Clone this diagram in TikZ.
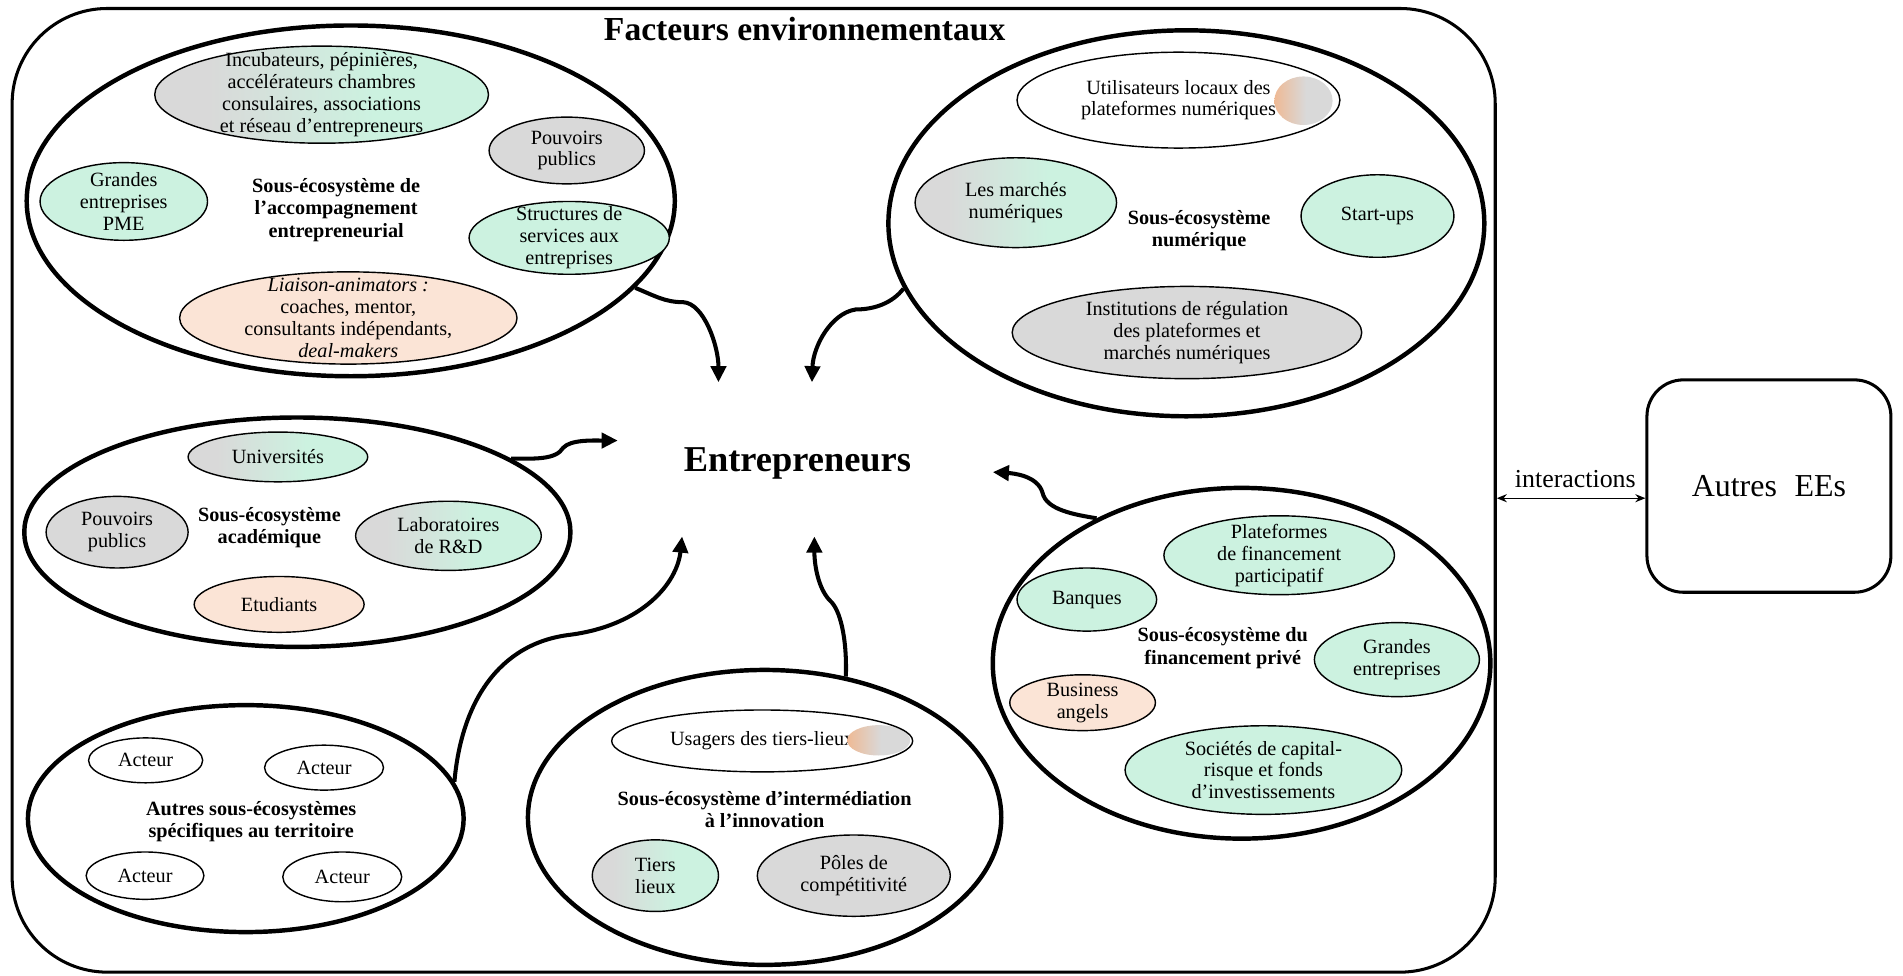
\documentclass[tikz,border=0pt]{standalone}
\usepackage{fontspec}
\setmainfont{Liberation Serif}
\usetikzlibrary{shapes.geometric,arrows.meta}
\definecolor{gr}{RGB}{217,217,217}
\definecolor{mint}{RGB}{204,242,224}
\definecolor{peach}{RGB}{251,228,214}
\definecolor{orng}{RGB}{244,177,131}
\pgfdeclarehorizontalshading{gm}{100bp}{color(0bp)=(gr); color(33bp)=(gr); color(58bp)=(mint); color(100bp)=(mint)}
\pgfdeclarehorizontalshading{og}{100bp}{color(0bp)=(orng); color(18bp)=(orng); color(52bp)=(gr); color(100bp)=(gr)}
\tikzset{
  bub/.style 2 args={ellipse, draw, line width=0.7pt, inner sep=0pt, minimum width=#1*0.6pt, minimum height=#2*0.6pt},
  big/.style 2 args={ellipse, draw, line width=2.2pt, inner sep=0pt, minimum width=#1*0.6pt, minimum height=#2*0.6pt},
  txt/.style={align=center, inner sep=0pt, font=\fontsize{10}{10.8}\selectfont},
  lab/.style={align=center, inner sep=0pt, font=\fontsize{10}{11}\selectfont\bfseries},
  arr/.style={line width=2pt, -{Triangle[length=8pt,width=7.5pt]}},
  gmfill/.style={shade, shading=gm},
  frame/.style={draw, rectangle, line width=1.5pt, inner sep=0pt},
}
\begin{document}
\begin{tikzpicture}[x=0.6pt, y=-0.6pt]
\useasboundingbox (0,0) rectangle (1568,804);
% outer frame
\node[frame, rounded corners=47pt, minimum width=1222*0.6pt, minimum height=794*0.6pt] (env) at (621,404) {};
\node[font=\fontsize{16.6}{19}\selectfont\bfseries, inner sep=0pt] (title) at (663,24) {Facteurs environnementaux};

% big ellipses
\node[big={534}{289}] (A) at (289,165.5) {};
\node[big={491}{318}] (B) at (977.5,184) {};
\node[big={450}{189}] (C) at (245,438.5) {};
\node[big={359}{187}] (D) at (202.5,674.5) {};
\node[big={390}{243}] (E) at (630,673.5) {};
\node[big={410}{289}] (F) at (1023,546.5) {};

% A : accompagnement
\node[bub={275}{80}, gmfill] (a1) at (265,78) {};
\node[txt] (a1t) at (a1) {Incubateurs, pépinières,\\accélérateurs chambres\\consulaires, associations\\et réseau d’entrepreneurs};
\node[bub={128}{55}, fill=gr] (a2) at (467,124) {};
\node[txt] (a2t) at (a2) {Pouvoirs\\publics};
\node[bub={138}{64}, fill=mint] (a3) at (102,166) {};
\node[txt] (a3t) at (a3) {Grandes\\entreprises\\PME};
\node[bub={165}{60}, fill=mint] (a4) at (469,196) {};
\node[txt] (a4t) at (a4) {Structures de\\services aux\\entreprises};
\node[bub={278}{76}, fill=peach] (a5) at (287,262) {};
\node[txt] (a5t) at (a5) {\textit{Liaison-animators :}\\coaches, mentor,\\consultants indépendants,\\\textit{deal-makers}};
\node[lab] (Al) at (277,173) {Sous-écosystème de\\l’accompagnement\\entrepreneurial};

% B : numerique
\node[bub={266}{79}] (b1) at (971,82.5) {};
\shade[shading=og] (1074,83) ellipse [x radius=14.4pt, y radius=12pt];
\node[txt] (b1t) at (b1) {Utilisateurs locaux des\\plateformes numériques};
\node[bub={166}{74}, gmfill] (b2) at (837,167) {};
\node[txt] (b2t) at (b2) {Les marchés\\numériques};
\node[bub={126}{68}, fill=mint] (b3) at (1135,178) {};
\node[txt] (b3t) at (b3) {Start-ups};
\node[bub={288}{76}, fill=gr] (b4) at (978,274) {};
\node[txt] (b4t) at (b4) {Institutions de régulation\\des plateformes et\\marchés numériques};
\node[lab] (Bl) at (988,190) {Sous-écosystème\\numérique};

% C : academique
\node[bub={148}{41}, gmfill] (c1) at (229,376.5) {};
\node[txt] (c1t) at (c1) {Universités};
\node[bub={117}{59}, fill=gr] (c2) at (96.5,438.5) {};
\node[txt] (c2t) at (c2) {Pouvoirs\\publics};
\node[bub={153}{57}, gmfill] (c3) at (369.5,441.5) {};
\node[txt] (c3t) at (c3) {Laboratoires\\de R\&D};
\node[bub={140}{46}, fill=peach] (c4) at (230,498) {};
\node[txt] (c4t) at (c4) {Etudiants};
\node[lab] (Cl) at (222,435) {Sous-écosystème\\académique};

% D : autres
\node[bub={94}{37}] (d1) at (120,626.5) {};
\node[txt] (d1t) at (d1) {Acteur};
\node[bub={98}{37}] (d2) at (267,632.5) {};
\node[txt] (d2t) at (d2) {Acteur};
\node[bub={97}{39}] (d3) at (119.5,721.5) {};
\node[txt] (d3t) at (d3) {Acteur};
\node[bub={98}{41}] (d4) at (282,722.5) {};
\node[txt] (d4t) at (d4) {Acteur};
\node[lab] (Dl) at (207,677) {Autres sous-écosystèmes\\spécifiques au territoire};

% E : intermediation
\node[txt] (e1t) at (628,610.5) {Usagers des tiers-lieux};
\begin{scope}
  \clip (628,610.5) ellipse [x radius=74.4pt, y radius=15.3pt];
  \shade[shading=og] (724,610) ellipse [x radius=15.6pt, y radius=7.5pt];
\end{scope}
\node[bub={248}{51}] (e1) at (628,610.5) {};
\node[lab] (El) at (630,667) {Sous-écosystème d’intermédiation\\à l’innovation};
\node[bub={104}{59}, gmfill] (e2) at (540,721.5) {};
\node[txt] (e2t) at (e2) {Tiers\\lieux};
\node[bub={159}{67}, fill=gr] (e3) at (703.5,721.5) {};
\node[txt] (e3t) at (e3) {Pôles de\\compétitivité};

% F : financement
\node[bub={190}{65}, fill=mint] (f1) at (1054,457.5) {};
\node[txt] (f1t) at (f1) {Plateformes\\de financement\\participatif};
\node[bub={115}{52}, fill=mint] (f2) at (895.5,494) {};
\node[txt] (f2t) at (f2) {Banques};
\node[bub={136}{61}, fill=mint] (f3) at (1151,543.5) {};
\node[txt] (f3t) at (f3) {Grandes\\entreprises};
\node[bub={120}{46}, fill=peach] (f4) at (892,579) {};
\node[txt] (f4t) at (f4) {Business\\angels};
\node[bub={228}{73}, fill=mint] (f5) at (1041,634.5) {};
\node[txt] (f5t) at (f5) {Sociétés de capital-\\risque et fonds\\d’investissements};
\node[lab] (Fl) at (1007.5,534) {Sous-écosystème du\\financement privé};

% centre
\node[font=\fontsize{18}{20}\selectfont\bfseries, inner sep=0pt] (ent) at (657,382) {Entrepreneurs};

% autres EEs
\node[frame, rounded corners=18pt, minimum width=201*0.6pt, minimum height=175*0.6pt, font=\fontsize{15.8}{18}\selectfont] (ee) at (1457.5,400.5) {Autres\hspace{0.55em}EEs};
\coordinate (ia) at ([yshift=-6pt]ee.west);
\draw[line width=0.6pt, {Stealth[length=5pt,width=4pt]}-{Stealth[length=5pt,width=4pt]}] (env.east |- ia) -- (ia);
\node[font=\fontsize{12.8}{14}\selectfont, inner sep=0pt] (il) at (1298,395) {interactions};

% arrows to entrepreneurs
\coordinate (t1) at (592,315);
\coordinate (t2) at (669,315);
\coordinate (t3) at (509,363);
\coordinate (t4) at (562,442);
\coordinate (t5) at (671,442);
\coordinate (t6) at (818,389);
\draw[arr] (A.-17) .. controls (540,244) and (548,249) .. (563,249) .. controls (580,250) and (592,285) .. (t1);
\draw[arr] (B.193) .. controls (735,250) and (720,255) .. (705,255) .. controls (685,258) and (670,285) .. (t2);
\draw[arr] (C.19) .. controls (440,378) and (458,379) .. (464,369) .. controls (470,362) and (490,363) .. (t3);
\draw[arr] (D.10) .. controls (380,580) and (410,530) .. (470,523) .. controls (530,515) and (558,480) .. (t4);
\draw[arr] (E.60) .. controls (698,525) and (692,502) .. (684,495) .. controls (674,485) and (671,465) .. (t5);
\draw[arr] (F.135) .. controls (885,424) and (862,420) .. (859,406) .. controls (855,392) and (835,390) .. (t6);
\end{tikzpicture}
\end{document}
